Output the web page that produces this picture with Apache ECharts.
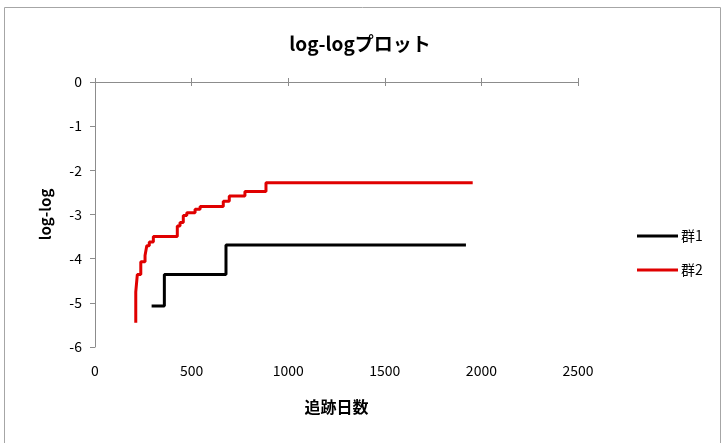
<!DOCTYPE html>
<html>
<head>
<meta charset="utf-8">
<script src="https://cdn.jsdelivr.net/npm/echarts@6/dist/echarts.min.js"></script>
<style>
  html, body { margin: 0; padding: 0; background: #fff; }
  #chart { width: 723px; height: 443px; }
</style>
</head>
<body>
<div id="chart"></div>
<script>
// Survival log-log plot: follow-up days vs log(-log S(t)) per group
const chartTitle = 'log-logプロット';
const xAxisName = '追跡日数';
const yAxisName = 'log-log';
const seriesNames = ['群1', '群2'];

// 群1 step points (days, log-log)
const group1Days   = [293, 359, 678, 1920];
const group1Values = [-5.07, -4.36, -3.69, -3.69];

// 群2 step points (days, log-log)
const group2Days   = [211, 211, 219, 237, 259, 268, 281, 302, 426, 440, 457, 475, 518, 544, 664, 695, 776, 885, 1955];
const group2Values = [-5.45, -4.75, -4.36, -4.07, -3.93, -3.71, -3.62, -3.50, -3.26, -3.18, -3.02, -2.96, -2.88, -2.82, -2.70, -2.58, -2.48, -2.28, -2.28];

const xMin = 0, xMax = 2500, xStep = 500;
const yMin = -6, yMax = 0, yStep = 1;

const pair = (xs, ys) => xs.map((x, i) => [x, ys[i]]);

const font = '"Noto Sans CJK JP", "Noto Sans", sans-serif';
const axisGray = '#8c8c8c';

const chart = echarts.init(document.getElementById('chart'));

const baseX = {
  type: 'value', min: xMin, max: xMax, interval: xStep,
  splitLine: { show: false }
};

chart.setOption({
  backgroundColor: '#fff',
  animation: false,
  textStyle: { fontFamily: font },
  title: {
    text: chartTitle,
    left: 355, top: 29, textAlign: 'center',
    textStyle: { fontFamily: font, fontSize: 19, fontWeight: 'bold', color: '#000' }
  },
  graphic: [{
    type: 'rect', silent: true,
    shape: { x: 4.5, y: 7.5, width: 716, height: 445 },
    style: { fill: 'none', stroke: '#a6a6a6', lineWidth: 1 }
  }],
  legend: {
    orient: 'vertical', left: 632, top: 224,
    itemWidth: 41, itemHeight: 3, itemGap: 20,
    icon: 'rect',
    textStyle: { fontFamily: font, fontSize: 14, color: '#000', padding: [0, 0, 0, -2] },
    data: seriesNames
  },
  grid: { left: 95, right: 145, top: 82, bottom: 96, containLabel: false },
  xAxis: [
    Object.assign({}, baseX, {
      position: 'top',
      axisLine: { show: true, onZero: false, lineStyle: { color: axisGray, width: 1 } },
      axisTick: { show: true, inside: false, length: 4, lineStyle: { color: axisGray } },
      axisLabel: { show: false }
    }),
    Object.assign({}, baseX, {
      position: 'top',
      axisLine: { show: false, onZero: false },
      axisTick: { show: true, inside: true, length: 4, lineStyle: { color: axisGray } },
      axisLabel: { show: false }
    }),
    Object.assign({}, baseX, {
      position: 'bottom',
      axisLine: { show: false, onZero: false },
      axisTick: { show: false },
      axisLabel: {
        show: true, margin: 17, fontSize: 14, color: '#000', fontFamily: font,
        formatter: (v) => String(v)
      },
      name: xAxisName, nameLocation: 'middle', nameGap: 52,
      nameTextStyle: { fontFamily: font, fontSize: 16, fontWeight: 'bold', color: '#000' }
    })
  ],
  yAxis: {
    type: 'value', min: yMin, max: yMax, interval: yStep,
    splitLine: { show: false },
    axisLine: { show: true, onZero: false, lineStyle: { color: axisGray, width: 1 } },
    axisTick: { show: true, inside: false, length: 5, lineStyle: { color: axisGray } },
    axisLabel: { margin: 13, fontSize: 14, color: '#000', fontFamily: font },
    name: yAxisName, nameLocation: 'middle', nameGap: 42, nameRotate: 90,
    nameTextStyle: { fontFamily: font, fontSize: 15, fontWeight: 'bold', color: '#000' }
  },
  series: [
    {
      name: seriesNames[0], type: 'line', step: 'end', xAxisIndex: 0,
      showSymbol: false, symbol: 'none',
      data: pair(group1Days, group1Values),
      itemStyle: { color: '#000' },
      lineStyle: { color: '#000', width: 3 }
    },
    {
      name: seriesNames[1], type: 'line', step: 'end', xAxisIndex: 0,
      showSymbol: false, symbol: 'none',
      data: pair(group2Days, group2Values),
      itemStyle: { color: '#e00000' },
      lineStyle: { color: '#e00000', width: 3 }
    }
  ]
});
</script>
</body>
</html>
